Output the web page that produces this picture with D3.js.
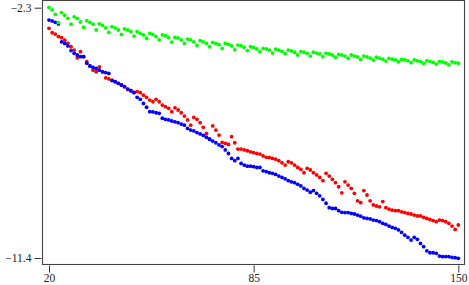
<!DOCTYPE html>
<html><head><meta charset="utf-8">
<script src="https://cdn.jsdelivr.net/npm/d3@7/dist/d3.min.js"></script>
<style>
  body { margin: 0; background: #fff; }
  .tick text { font-family: "Liberation Serif", serif; font-size: 11.5px; fill: #222; }
  .tick line { stroke: #333; }
</style>
</head>
<body>
<svg width="469" height="285"></svg>
<script>

// x positions (one point per integer step)
const xs = d3.range(20, 151);

const greenVals = [
  -2.29, -2.38, -2.54, -2.84, -2.48, -2.57, -2.69, -2.90, -2.63, -2.69, -2.82, -3.01,
  -2.77, -2.83, -2.90, -3.11, -2.89, -2.94, -3.03, -3.20, -2.99, -3.03, -3.11, -3.27,
  -3.07, -3.11, -3.17, -3.33, -3.17, -3.23, -3.29, -3.41, -3.23, -3.27, -3.35, -3.47,
  -3.29, -3.32, -3.39, -3.55, -3.38, -3.40, -3.47, -3.60, -3.44, -3.47, -3.54, -3.67,
  -3.50, -3.54, -3.60, -3.72, -3.56, -3.60, -3.64, -3.78, -3.60, -3.63, -3.69, -3.83,
  -3.66, -3.68, -3.74, -3.86, -3.72, -3.74, -3.80, -3.90, -3.78, -3.80, -3.84, -3.95,
  -3.81, -3.84, -3.89, -3.97, -3.84, -3.87, -3.92, -4.02, -3.90, -3.92, -3.96, -4.06,
  -3.92, -3.95, -3.98, -4.08, -3.96, -3.98, -4.02, -4.10, -4.00, -4.02, -4.06, -4.14,
  -4.02, -4.06, -4.09, -4.18, -4.06, -4.09, -4.13, -4.20, -4.10, -4.13, -4.17, -4.24,
  -4.14, -4.17, -4.20, -4.27, -4.18, -4.20, -4.23, -4.30, -4.20, -4.23, -4.26, -4.32,
  -4.23, -4.25, -4.29, -4.35, -4.26, -4.27, -4.31, -4.38, -4.27, -4.30, -4.32
];

const redVals = [
  -3.05, -3.21, -3.26, -3.35, -3.39, -3.48, -3.60, -3.72, -3.84, -4.12,
  -3.90, -4.08, -4.26, -4.42, -4.57, -4.63, -4.45, -4.63, -4.85, -4.89,
  -4.93, -4.99, -5.05, -5.11, -5.17, -5.27, -5.32, -5.38, -5.35, -5.39,
  -5.48, -5.56, -5.66, -5.72, -5.63, -5.72, -5.84, -5.90, -5.96, -6.08,
  -5.94, -6.02, -6.12, -6.24, -6.38, -6.57, -6.29, -6.36, -6.48, -6.65,
  -6.87, -7.06, -6.60, -6.75, -6.93, -7.20, -7.23, -7.27, -6.99, -7.21,
  -7.44, -7.44, -7.47, -7.50, -7.54, -7.57, -7.60, -7.62, -7.69, -7.74,
  -7.75, -7.78, -7.81, -7.86, -7.94, -8.02, -7.90, -7.94, -8.02, -8.11,
  -8.18, -8.30, -8.14, -8.20, -8.30, -8.38, -8.47, -8.59, -8.32, -8.42,
  -8.54, -8.66, -8.81, -9.03, -8.63, -8.75, -8.87, -9.05, -9.32, -9.39,
  -8.95, -9.11, -9.32, -9.47, -9.51, -9.54, -9.35, -9.57, -9.62, -9.66,
  -9.68, -9.68, -9.72, -9.75, -9.78, -9.80, -9.84, -9.87, -9.87, -9.92,
  -9.96, -10.00, -10.04, -10.08, -10.02, -10.04, -10.08, -10.14, -10.24, -10.36,
  -10.20
];

const blueVals = [
  -2.75, -2.78, -2.83, -2.89, -3.54, -3.60, -3.69, -3.86, -3.96, -4.02,
  -4.08, -4.08, -4.32, -4.42, -4.47, -4.51, -4.57, -4.63, -4.66, -4.69,
  -4.95, -4.99, -5.05, -5.11, -5.17, -5.26, -5.32, -5.39, -5.56, -5.63,
  -5.78, -5.92, -6.08, -6.09, -6.12, -6.14, -6.32, -6.36, -6.38, -6.42,
  -6.45, -6.48, -6.53, -6.57, -6.69, -6.75, -6.78, -6.84, -6.89, -6.94,
  -7.01, -7.09, -7.15, -7.21, -7.29, -7.35, -7.47, -7.60, -7.78, -7.86,
  -7.78, -7.96, -8.02, -8.06, -8.06, -8.08, -8.11, -8.11, -8.23, -8.26,
  -8.30, -8.32, -8.36, -8.42, -8.47, -8.52, -8.59, -8.63, -8.66, -8.72,
  -8.78, -8.87, -8.93, -9.01, -8.95, -9.05, -9.14, -9.27, -9.41, -9.57,
  -9.60, -9.60, -9.68, -9.74, -9.75, -9.75, -9.78, -9.80, -9.84, -9.88,
  -9.94, -9.96, -9.98, -10.02, -10.04, -10.08, -10.14, -10.18, -10.24, -10.29,
  -10.32, -10.38, -10.47, -10.57, -10.65, -10.75, -10.65, -10.72, -10.87, -10.99,
  -11.14, -11.21, -11.21, -11.23, -11.33, -11.35, -11.35, -11.35, -11.38, -11.39,
  -11.41
];

const xTicks = [20, 85, 150];
const yTicks = [-2.3, -11.4];

// drawing order: red under blue under green
const series = [
  { name: "red", color: "#ff0000", vals: redVals },
  { name: "blue", color: "#0000ff", vals: blueVals },
  { name: "green", color: "#00ff00", vals: greenVals }
];

let svg = d3.select("svg");

let x = d3.scaleLinear().domain([20, 150]).range([49, 458.3]);
let y = d3.scaleLinear().domain([-11.4, -2.3]).range([258, 7.7]);

// frame
svg.append("rect")
  .attr("x", 42.5).attr("y", 0.5)
  .attr("width", 422).attr("height", 264)
  .attr("fill", "none")
  .attr("stroke", "#444")
  .attr("stroke-width", 1.1);

svg.append("g")
  .attr("transform", "translate(41.5,0)")
  .call(d3.axisLeft(y).tickValues(yTicks).tickSize(7).tickPadding(3).tickFormat(d3.format(".1f")))
  .call(g => g.select(".domain").remove());

svg.append("g")
  .attr("transform", "translate(0,265.5)")
  .call(d3.axisBottom(x).tickValues(xTicks).tickSize(7).tickPadding(1.5).tickFormat(d3.format("d")))
  .call(g => g.select(".domain").remove());

series.forEach(s => {
  svg.append("g")
    .attr("class", s.name)
    .selectAll("circle")
    .data(s.vals)
    .enter()
    .append("circle")
      .attr("cx", (d, i) => x(xs[i]))
      .attr("cy", d => y(d))
      .attr("r", 1.9)
      .attr("fill", s.color);
});

</script>
</body></html>
